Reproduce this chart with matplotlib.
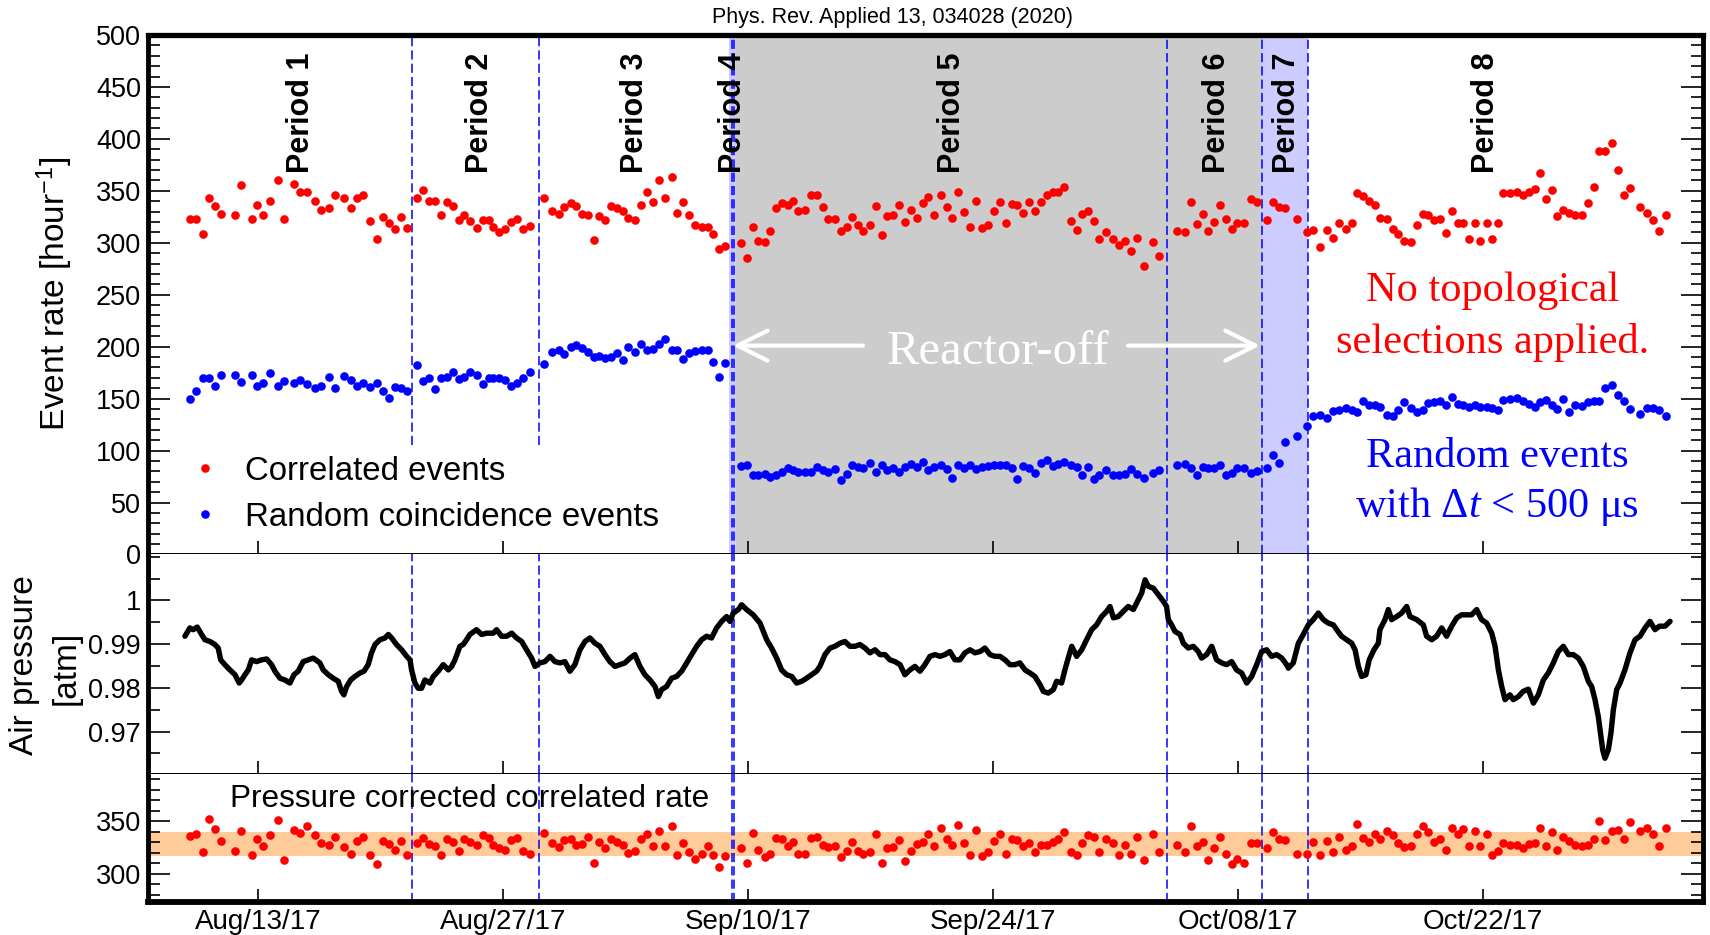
import numpy as np
import matplotlib
matplotlib.use("Agg")
import matplotlib.pyplot as plt
import matplotlib.dates as mdates
from matplotlib.ticker import MultipleLocator, FixedLocator, FuncFormatter
from datetime import datetime

plt.rcParams["font.family"] = ["Liberation Sans", "DejaVu Sans"]
plt.rcParams["mathtext.fontset"] = "custom"
plt.rcParams["mathtext.rm"] = "Liberation Serif"
plt.rcParams["mathtext.it"] = "Liberation Serif:italic"
plt.rcParams["mathtext.sf"] = "Liberation Sans"

t0 = mdates.date2num(datetime(2017, 8, 13))

# run times in days after Aug/13/17 00:00
run_days = [
    -3.89, -3.51, -3.16, -2.82, -2.48, -2.13, -1.31, -0.97, -0.34, -0.04,
    0.31, 0.69, 1.14, 1.49, 2.06, 2.40, 2.78, 3.26, 3.60, 4.04,
    4.40, 4.91, 5.30, 5.64, 6.02, 6.40, 6.82, 7.16, 7.47, 7.81,
    8.19, 8.50, 9.10, 9.45, 9.75, 10.10, 10.44, 10.78, 11.16, 11.50,
    11.79, 12.13, 12.50, 12.84, 13.18, 13.45, 13.79, 14.13, 14.44, 14.82,
    15.16, 15.54,
    16.36, 16.82, 17.20, 17.50, 17.87, 18.17, 18.50, 18.88, 19.20, 19.50,
    19.85, 20.15, 20.53, 20.88, 21.14, 21.52, 21.87, 22.21, 22.59, 22.93,
    23.28, 23.64, 23.92, 24.30, 24.65, 24.95, 25.35, 25.69, 26.02, 26.36,
    26.67,
    27.58, 27.92, 28.27, 28.57, 28.95, 29.26, 29.58, 29.92, 30.27, 30.59,
    30.88, 31.26, 31.58, 31.92, 32.27, 32.59, 32.97, 33.30, 33.64, 33.94,
    34.27, 34.59, 34.97, 35.31, 35.64, 35.92, 36.27, 36.63, 36.97, 37.30,
    37.64,
    37.98, 38.31, 38.63, 39.01, 39.35, 39.68, 40.02, 40.36, 40.69, 41.03,
    41.35, 41.73, 42.06, 42.40, 42.74, 43.07, 43.39, 43.73, 44.08, 44.40,
    44.74, 45.07, 45.41, 45.73, 46.08, 46.44, 46.78, 47.07, 47.45, 47.77,
    48.08, 48.46, 48.84, 49.18, 49.54, 49.89, 50.25, 50.65, 51.16, 51.47,
    52.50, 52.97, 53.31, 53.64, 53.98, 54.31, 54.65, 54.97, 55.31, 55.64,
    55.96, 56.34, 56.72, 57.10, 57.64, 58.02, 58.36, 58.69, 59.35,
    59.92, 60.30, 60.69, 61.07, 61.45, 61.79, 62.17, 62.50, 62.78, 63.16,
    63.50, 63.83, 64.11, 64.50, 64.84, 65.16, 65.49, 65.87, 66.21, 66.55,
    66.88, 67.22, 67.54, 67.87, 68.21, 68.55, 68.88, 69.22, 69.54, 69.83,
    70.21, 70.51, 70.88, 71.16, 71.54, 71.92, 72.30, 72.65, 72.97, 73.26,
    73.60, 73.92, 74.21, 74.59, 74.93, 75.26, 75.64, 76.02, 76.36, 76.65,
    76.97, 77.35, 77.70, 78.08, 78.40, 78.97, 79.35, 79.73, 80.08, 80.44,
]

corr_rate = [
    323, 323, 308, 343, 335, 328, 327, 356, 323, 336,
    327, 340, 360, 323, 357, 349, 349, 340, 332, 333,
    346, 343, 333, 343, 346, 321, 304, 325, 319, 313,
    325, 314, 343, 351, 340, 340, 327, 339, 335, 322,
    327, 321, 314, 322, 322, 315, 310, 313, 320, 323,
    313, 316,
    343, 331, 328, 334, 338, 335, 328, 327, 303, 326,
    322, 335, 333, 331, 324, 322, 336, 349, 339, 360,
    343, 363, 329, 339, 327, 317, 315, 315, 308, 294,
    297,
    300, 285, 315, 302, 301, 311, 333, 338, 336, 340,
    331, 332, 346, 346, 334, 323, 323, 311, 315, 325,
    317, 311, 317, 335, 307, 326, 327, 336, 320, 332,
    324,
    338, 344, 327, 346, 334, 324, 349, 330, 315, 340,
    314, 317, 331, 339, 319, 337, 336, 329, 339, 331,
    339, 346, 349, 349, 354, 321, 312, 328, 331, 321,
    304, 310, 304, 298, 302, 292, 305, 278, 301, 287,
    311, 310, 339, 318, 328, 311, 320, 336, 323, 313,
    319, 319, 342, 339, 322, 339, 334, 333, 323,
    310, 312, 296, 312, 305, 319, 313, 319, 348, 345,
    340, 336, 324, 323, 313, 308, 302, 301, 317, 328,
    327, 322, 323, 309, 331, 319, 319, 304, 319, 302,
    319, 304, 319, 348, 348, 349, 346, 349, 352, 367,
    342, 351, 326, 332, 329, 327, 327, 338, 354, 388,
    388, 396, 370, 346, 353, 334, 329, 322, 311, 327,
]

rand_rate = [
    150, 157, 170, 170, 162, 173, 173, 166, 173, 162,
    165, 175, 162, 167, 165, 168, 164, 160, 162, 171,
    160, 172, 168, 162, 165, 161, 165, 157, 151, 161,
    160, 157, 182, 167, 170, 159, 170, 171, 176, 169,
    171, 176, 173, 164, 170, 170, 170, 168, 162, 165,
    170, 176,
    183, 195, 197, 193, 200, 202, 199, 195, 190, 191,
    189, 190, 194, 187, 200, 195, 203, 197, 198, 203,
    207, 197, 197, 188, 194, 196, 197, 197, 185, 171,
    184,
    85, 86, 76, 76, 77, 75, 76, 79, 83, 81,
    79, 79, 79, 84, 81, 79, 82, 72, 77, 86,
    84, 83, 88, 79, 86, 81, 83, 79, 84, 87,
    84,
    89, 81, 84, 86, 82, 74, 86, 83, 86, 82,
    84, 85, 86, 86, 86, 83, 73, 85, 83, 78,
    88, 91, 85, 87, 89, 86, 84, 76, 84, 73,
    76, 81, 76, 76, 77, 82, 77, 74, 78, 81,
    86, 87, 83, 76, 84, 83, 83, 86, 76, 78,
    83, 83, 78, 80, 83, 96, 88, 108, 114,
    124, 133, 134, 131, 138, 139, 141, 139, 137, 148,
    144, 144, 142, 134, 133, 139, 147, 141, 137, 139,
    146, 147, 148, 144, 152, 145, 144, 142, 144, 142,
    142, 141, 139, 149, 150, 151, 148, 145, 142, 147,
    149, 144, 140, 150, 137, 144, 143, 147, 148, 148,
    160, 163, 153, 148, 140, 135, 141, 141, 139, 133,
]

corr_pc = [
    336, 338, 321, 352, 343, 331, 322, 341, 318, 333,
    326, 337, 351, 313, 342, 339, 345, 337, 329, 327,
    335, 325, 319, 331, 335, 318, 309, 331, 328, 323,
    331, 318, 329, 334, 328, 326, 318, 333, 330, 322,
    333, 330, 327, 337, 334, 327, 324, 323, 332, 334,
    322, 319,
    339, 329, 325, 332, 333, 327, 328, 335, 310, 330,
    324, 333, 330, 327, 320, 322, 333, 338, 326, 341,
    326, 345, 318, 329, 321, 314, 319, 326, 318, 306,
    317,
    324, 310, 339, 323, 316, 319, 334, 333, 326, 330,
    319, 319, 334, 335, 327, 325, 326, 316, 322, 330,
    322, 319, 321, 338, 310, 324, 325, 332, 312, 322,
    328,
    330, 338, 326, 344, 333, 327, 346, 329, 318, 342,
    317, 321, 331, 338, 319, 333, 332, 326, 329, 321,
    327, 327, 330, 333, 340, 321, 318, 329, 337, 335,
    321, 333, 329, 318, 327, 319, 335, 313, 338, 321,
    327, 321, 345, 326, 330, 313, 324, 335, 319, 309,
    314, 310, 329, 329, 324, 340, 333, 332, 319,
    319, 330, 318, 331, 321, 335, 323, 326, 347, 334,
    330, 338, 333, 341, 337, 329, 325, 326, 338, 345,
    340, 330, 333, 323, 344, 338, 343, 326, 341, 326,
    338, 318, 322, 329, 327, 327, 324, 328, 329, 344,
    326, 340, 323, 335, 331, 327, 326, 327, 333, 350,
    332, 341, 342, 333, 349, 341, 344, 338, 326, 344,
]

p_days = [
    -4.17, -3.89, -3.70, -3.47, -3.22, -3.03, -2.74, -2.46, -2.27, -2.13,
    -1.89, -1.60, -1.31, -1.07, -0.93, -0.74, -0.55, -0.36, -0.08, 0.21,
    0.50, 0.78, 0.97, 1.26, 1.54, 1.83, 2.06, 2.30, 2.59, 2.88,
    3.16, 3.54, 3.73, 4.02, 4.30, 4.59, 4.78, 4.91, 5.07, 5.30,
    5.54, 5.83, 6.06, 6.30, 6.49, 6.69, 6.97, 7.26, 7.45, 7.64,
    7.92, 8.21, 8.50, 8.69, 8.78, 8.97, 9.16, 9.35, 9.54, 9.83,
    10.02, 10.30, 10.59, 10.88, 11.07, 11.26, 11.54, 11.73, 11.92, 12.11,
    12.49, 12.78, 13.07, 13.45, 13.64, 13.92, 14.21, 14.50, 14.78, 15.07,
    15.35, 15.64, 15.83,
    16.11, 16.40, 16.69, 16.97, 17.26, 17.54, 17.83, 18.11, 18.40, 18.69,
    18.97, 19.26, 19.54, 19.83, 20.11, 20.40, 20.69, 20.97, 21.26, 21.54,
    21.83, 22.11, 22.40, 22.69, 22.88, 23.07, 23.35, 23.64, 23.92, 24.21,
    24.50, 24.78, 25.07, 25.35, 25.64, 25.92, 26.21, 26.50, 26.78, 26.97,
    27.16, 27.45, 27.64, 27.92, 28.30, 28.69, 28.88, 29.07, 29.35, 29.64,
    29.92, 30.21, 30.50, 30.78, 31.07, 31.35, 31.64, 31.92, 32.11, 32.40,
    32.69, 32.97, 33.26, 33.54, 33.83, 34.11, 34.40, 34.69, 34.97, 35.26,
    35.54, 35.83, 36.11, 36.40, 36.69,
    36.97, 37.26, 37.54, 37.83, 38.11, 38.40, 38.69, 38.97, 39.26, 39.54,
    39.83, 40.11, 40.40, 40.69, 40.97, 41.26, 41.54, 41.83, 42.11, 42.40,
    42.69, 42.97, 43.26, 43.54, 43.83, 44.11, 44.40, 44.69, 44.88, 45.16,
    45.45, 45.64, 45.92, 46.11, 46.30, 46.50, 46.78, 47.07, 47.35, 47.64,
    47.92, 48.21, 48.50, 48.69, 48.88, 49.16, 49.45, 49.73, 50.02, 50.31,
    50.50, 50.69, 50.88, 51.16, 51.45, 51.73, 51.92, 52.02, 52.21, 52.40,
    52.69, 52.88, 53.16, 53.45, 53.73, 53.92, 54.21, 54.50, 54.78, 55.07,
    55.35, 55.64, 55.92, 56.21, 56.50, 56.78, 57.07, 57.35, 57.64, 57.92,
    58.21, 58.50, 58.78,
    58.88, 59.16, 59.45, 59.73, 60.02, 60.30, 60.59, 60.88, 61.16, 61.45,
    61.64, 61.92, 62.21, 62.50, 62.69, 62.88, 63.07, 63.31, 63.50, 63.77,
    64.02, 64.11, 64.40, 64.59, 64.78, 65.07, 65.35, 65.64, 65.83, 66.21,
    66.59, 66.78, 67.07, 67.35, 67.64, 67.92, 68.21, 68.50, 68.78, 69.07,
    69.35, 69.64, 69.92, 70.21, 70.50, 70.69, 70.88, 71.07, 71.26, 71.54,
    71.73, 72.02, 72.30, 72.59, 72.88, 73.16, 73.45, 73.73, 74.02, 74.30,
    74.59, 74.88, 75.16, 75.45, 75.73, 76.02, 76.21, 76.40, 76.59, 76.74,
    76.84, 76.97, 77.16, 77.31, 77.45, 77.64, 77.83, 78.11, 78.40, 78.69,
    78.97, 79.26, 79.54, 79.83, 80.08, 80.40, 80.69,
]

p_atm = [
    .9918, .9937, .9933, .9939, .9922, .9910, .9906, .9899, .9891, .9864,
    .9853, .9841, .9830, .9811, .9818, .9830, .9841, .9864, .9860, .9864,
    .9866, .9853, .9838, .9822, .9818, .9811, .9830, .9838, .9860, .9864,
    .9868, .9857, .9841, .9830, .9822, .9815, .9792, .9784, .9803, .9818,
    .9826, .9834, .9838, .9853, .9880, .9899, .9910, .9914, .9922, .9914,
    .9899, .9887, .9872, .9864, .9841, .9811, .9799, .9799, .9818, .9811,
    .9826, .9838, .9853, .9841, .9849, .9864, .9895, .9899, .9910, .9922,
    .9933, .9922, .9925, .9925, .9933, .9918, .9918, .9925, .9914, .9906,
    .9887, .9868, .9849,
    .9857, .9860, .9872, .9860, .9857, .9860, .9838, .9853, .9887, .9906,
    .9914, .9902, .9895, .9876, .9860, .9849, .9853, .9857, .9868, .9876,
    .9849, .9830, .9818, .9803, .9780, .9796, .9803, .9822, .9826, .9838,
    .9857, .9876, .9895, .9910, .9918, .9914, .9937, .9952, .9963, .9952,
    .9971, .9979, .9990, .9979, .9967, .9948, .9929, .9910, .9891, .9868,
    .9841, .9830, .9826, .9811, .9815, .9822, .9830, .9838, .9849, .9876,
    .9891, .9895, .9902, .9906, .9895, .9895, .9899, .9891, .9880, .9887,
    .9876, .9876, .9864, .9860, .9853,
    .9830, .9841, .9849, .9838, .9853, .9872, .9876, .9872, .9876, .9883,
    .9864, .9864, .9880, .9887, .9880, .9883, .9891, .9876, .9872, .9872,
    .9864, .9853, .9853, .9857, .9841, .9834, .9826, .9807, .9792, .9788,
    .9796, .9815, .9811, .9841, .9868, .9895, .9872, .9887, .9910, .9933,
    .9944, .9963, .9975, .9986, .9960, .9963, .9975, .9986, .9979, 1.0002,
    1.0017, 1.0047, 1.0032, 1.0028, 1.0013, .9998, .9986, .9956, .9944, .9929,
    .9922, .9902, .9891, .9895, .9883, .9868, .9876, .9895, .9864, .9857,
    .9853, .9860, .9841, .9834, .9811, .9826, .9853, .9883, .9887, .9872,
    .9876, .9868, .9853,
    .9845, .9857, .9902, .9922, .9944, .9956, .9971, .9956, .9948, .9944,
    .9933, .9918, .9910, .9902, .9887, .9849, .9826, .9830, .9864, .9887,
    .9902, .9933, .9956, .9979, .9956, .9963, .9971, .9986, .9963, .9956,
    .9944, .9918, .9910, .9918, .9937, .9918, .9941, .9960, .9967, .9967,
    .9967, .9979, .9956, .9948, .9925, .9895, .9841, .9803, .9773, .9784,
    .9773, .9780, .9792, .9797, .9765, .9784, .9818, .9834, .9857, .9883,
    .9895, .9876, .9876, .9868, .9849, .9815, .9803, .9773, .9734, .9689,
    .9658, .9639, .9658, .9696, .9750, .9796, .9811, .9841, .9880, .9910,
    .9918, .9937, .9952, .9933, .9941, .9941, .9952,
]

# period boundaries and labels (days after Aug/13/17)
boundaries = [8.78, 16.08, 27.07, 27.22, 51.96, 57.35, 59.98]
period_names = ["Period 1", "Period 2", "Period 3", "Period 4",
                "Period 5", "Period 6", "Period 7", "Period 8"]
period_pos = [2.46, 12.69, 21.54, 27.12, 39.64, 54.78, 58.80, 70.20]
reactor_off = (27.31, 57.35)
lavender_spans = [(26.93, 27.31), (57.35, 59.98)]
tick_days = [0, 14, 28, 42, 56, 70]
band = (317, 340)

x_run = t0 + np.array(run_days)
x_p = t0 + np.array(p_days)

fig = plt.figure(figsize=(17.1, 9.35), dpi=100)
ax1 = fig.add_axes([0.0865, 0.4070, 0.9094, 0.5556])
ax2 = fig.add_axes([0.0865, 0.1722, 0.9094, 0.2348], sharex=ax1)
ax3 = fig.add_axes([0.0865, 0.0353, 0.9094, 0.1369], sharex=ax1)

# top panel
ax1.axvspan(t0 + reactor_off[0], t0 + reactor_off[1], color="#CCCCCC", lw=0, zorder=0)
for a, b in lavender_spans:
    ax1.axvspan(t0 + a, t0 + b, color="#CCCCFF", lw=0, zorder=0)

for i, b in enumerate(boundaries):
    ymin = 0.211 if i < 2 else 0
    ax1.axvline(t0 + b, ymin=ymin, color="blue", lw=1.1, ls=(0, (6, 2.7)), zorder=1)
    ax2.axvline(t0 + b, color="blue", lw=1.1, ls=(0, (6, 2.7)), zorder=1)
    ax3.axvline(t0 + b, color="blue", lw=1.1, ls=(0, (6, 2.7)), zorder=1)

ax1.plot(x_run, corr_rate, "o", color="red", ms=6.2, mew=0, label="Correlated events", zorder=3)
ax1.plot(x_run, rand_rate, "o", color="blue", ms=6.2, mew=0, label="Random coincidence events", zorder=3)

for name, d in zip(period_names, period_pos):
    ax1.text(t0 + d, 367.5, name, rotation=90, ha="center", va="bottom",
             fontsize=22, fontweight="bold", zorder=4)

ax1.text(t0 + 42.29, 183, "Reactor-off", color="white", fontsize=35,
         family="Liberation Serif", ha="center", va="baseline", zorder=4)
arrow = dict(arrowstyle="->", color="white", lw=3, mutation_scale=54, shrinkA=0, shrinkB=0)
ax1.annotate("", xy=(t0 + 27.14, 201), xytext=(t0 + 34.57, 201), arrowprops=arrow, zorder=4)
ax1.annotate("", xy=(t0 + 57.26, 201), xytext=(t0 + 49.71, 201), arrowprops=arrow, zorder=4)

ax1.text(t0 + 70.54, 243.7, "No topological", color="red", fontsize=30.5,
         family="Liberation Serif", ha="center", va="baseline")
ax1.text(t0 + 70.54, 193.7, "selections applied.", color="red", fontsize=30.5,
         family="Liberation Serif", ha="center", va="baseline")
ax1.text(t0 + 70.8, 84.1, "Random events", color="blue", fontsize=30.5,
         family="Liberation Serif", ha="center", va="baseline")
ax1.text(t0 + 70.8, 35.8, r"with $\Delta t$ < 500 μs", color="blue", fontsize=30.5,
         family="Liberation Serif", ha="center", va="baseline")

ax1.legend(loc="center left", bbox_to_anchor=(0.026, 0.1155), frameon=False, fontsize=23.8,
           handlelength=1.0, handletextpad=0.71, borderpad=0, borderaxespad=0,
           labelspacing=0.45, markerscale=1.0)

ax1.set_ylim(0, 500)
ax1.yaxis.set_major_locator(MultipleLocator(50))
ax1.yaxis.set_minor_locator(MultipleLocator(10))

# middle panel
ax2.plot(x_p, p_atm, color="black", lw=3.9, solid_joinstyle="round", solid_capstyle="round", zorder=3)
ax2.set_ylim(0.9603, 1.0105)
ax2.yaxis.set_major_locator(FixedLocator([0.97, 0.98, 0.99, 1.0]))
ax2.yaxis.set_major_formatter(FuncFormatter(lambda v, p: "1" if abs(v - 1) < 1e-9 else f"{v:.2f}"))
ax2.yaxis.set_minor_locator(MultipleLocator(0.005))

# bottom panel
ax3.axhspan(band[0], band[1], color="#FFCC99", lw=0, zorder=0)
ax3.plot(x_run, corr_pc, "o", color="red", ms=6.2, mew=0, zorder=3)
ax3.text(t0 + 12.11, 363.7, "Pressure corrected correlated rate", fontsize=22.7,
         ha="center", va="baseline")
ax3.set_ylim(273, 395)
ax3.yaxis.set_major_locator(FixedLocator([300, 350]))
ax3.yaxis.set_minor_locator(MultipleLocator(10))

ax1.set_xlim(t0 - 6.286, t0 + 82.571)
ax3.xaxis.set_major_locator(FixedLocator(t0 + np.array(tick_days)))
ax3.xaxis.set_major_formatter(mdates.DateFormatter("%b/%d/%y"))

for ax in (ax1, ax2, ax3):
    ax.tick_params(axis="y", which="both", direction="in", left=True, right=True,
                   labelright=False, labelsize=19.5, pad=5, width=1.2)
    ax.tick_params(axis="y", which="major", length=15.8)
    ax.tick_params(axis="y", which="minor", length=8.6)
    ax.tick_params(axis="x", which="major", direction="in", length=9.5, width=1.2,
                   top=False, bottom=True, labelsize=20, pad=5)
    ax.spines["left"].set_linewidth(3.5)
    ax.spines["right"].set_linewidth(3.5)
    ax.spines["bottom"].set_linewidth(1.4)
    ax.spines["top"].set_linewidth(1.4)
ax1.tick_params(labelbottom=False)
ax2.tick_params(labelbottom=False)
ax1.spines["top"].set_linewidth(3.8)
ax3.spines["bottom"].set_linewidth(4.2)
ax2.spines["top"].set_visible(False)
ax3.spines["top"].set_visible(False)

fig.text(54.5 / 1710, 1 - 293.5 / 935, r"Event rate [hour$^{\mathsf{-1}}$]", rotation=90,
         fontsize=24, ha="center", va="center")
fig.text(24 / 1710, 1 - 665 / 935, "Air pressure", rotation=90, fontsize=24, ha="center", va="center")
fig.text(66 / 1710, 1 - 668 / 935, "[atm]", rotation=90, fontsize=24, ha="center", va="center")
fig.text(892 / 1710, 1 - 18 / 935, "Phys. Rev. Applied 13, 034028 (2020)", fontsize=15.5,
         ha="center", va="center")

fig.savefig("out.png", dpi=100)
